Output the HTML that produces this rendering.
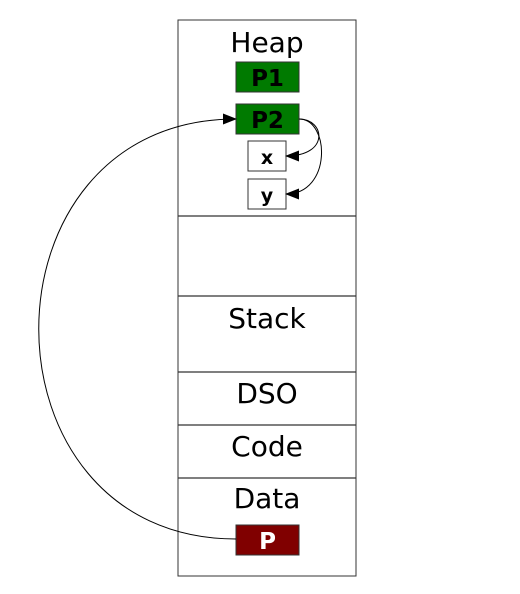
<!DOCTYPE html>
<html><head><meta charset="utf-8"><style>html,body{margin:0;padding:0;background:#fff}svg{display:block}</style></head>
<body>
<svg width="520" height="594" viewBox="0 0 520 594" xmlns="http://www.w3.org/2000/svg" font-family="DejaVu Sans, Liberation Sans, sans-serif">
<defs><marker id="ah" markerWidth="14" markerHeight="11" refX="13" refY="5.5" orient="auto" markerUnits="userSpaceOnUse"><path d="M0,0 L14,5.5 L0,11 z" fill="#000"/></marker></defs>
<rect x="178" y="20" width="178" height="556" fill="#fff" stroke="#333" stroke-width="1"/>
<g stroke="#333" stroke-width="1.2">
<line x1="178" y1="216" x2="356" y2="216"/><line x1="178" y1="296" x2="356" y2="296"/><line x1="178" y1="372" x2="356" y2="372"/><line x1="178" y1="425" x2="356" y2="425"/><line x1="178" y1="478" x2="356" y2="478"/>
</g>
<g font-size="28" text-anchor="middle" fill="#000">
<text x="267" y="52">Heap</text>
<text x="267" y="328">Stack</text>
<text x="267" y="403">DSO</text>
<text x="267" y="456">Code</text>
<text x="267" y="508">Data</text>
</g>
<rect x="236" y="62" width="63" height="30" fill="#007a00" stroke="#333"/>
<text x="267.5" y="86" font-size="23" font-weight="bold" text-anchor="middle">P1</text>
<rect x="236" y="104" width="63" height="30" fill="#007a00" stroke="#333"/>
<text x="267.5" y="128" font-size="23" font-weight="bold" text-anchor="middle">P2</text>
<rect x="248" y="141" width="38" height="30" fill="#fff" stroke="#333"/>
<text x="267" y="164" font-size="19" font-weight="bold" text-anchor="middle">x</text>
<rect x="248" y="179" width="38" height="30" fill="#fff" stroke="#333"/>
<text x="267" y="202" font-size="19" font-weight="bold" text-anchor="middle">y</text>
<rect x="236" y="525" width="63" height="30" fill="#800000" stroke="#333"/>
<text x="267.5" y="549" font-size="23" font-weight="bold" fill="#fff" text-anchor="middle">P</text>
<g fill="none" stroke="#000" stroke-width="1">
<path d="M236,539 C-27,539 -27,119 236,119" marker-end="url(#ah)"/>
<path d="M299,119 C325,119 330,156 286,156" marker-end="url(#ah)"/>
<path d="M299,119 C330,119 332,194 286,194" marker-end="url(#ah)"/>
</g>
</svg>
</body></html>
